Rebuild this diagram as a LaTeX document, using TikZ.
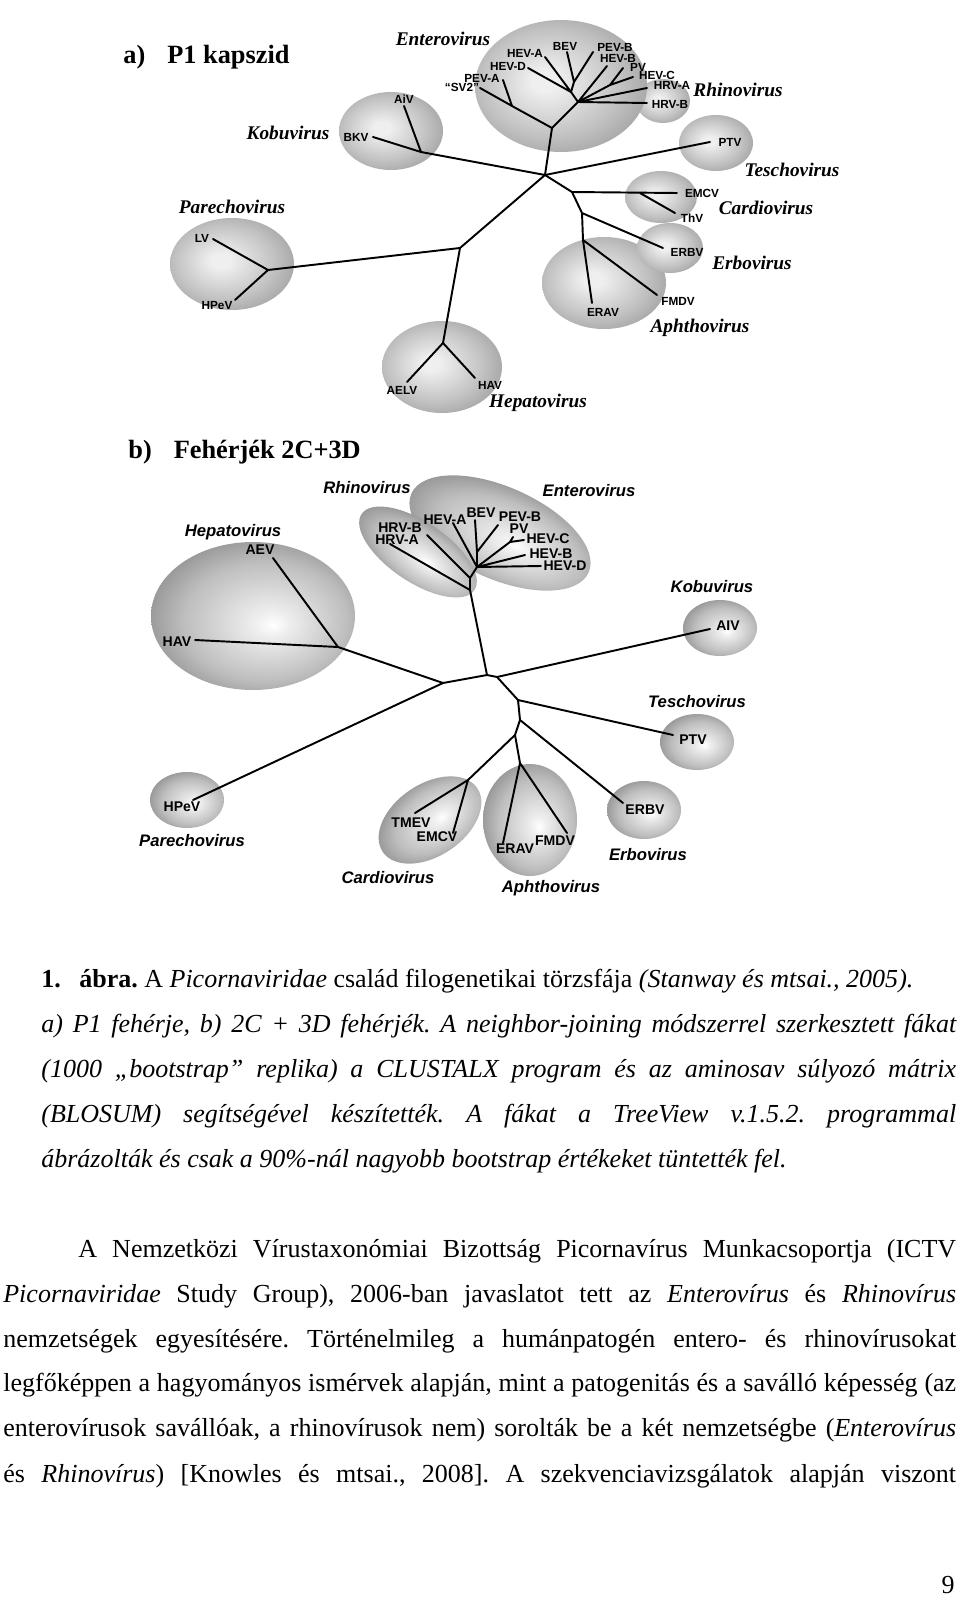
\documentclass[tikz,border=0pt]{standalone}
\usepackage{fontspec}
\setmainfont{Liberation Serif}
\setsansfont{Liberation Sans}
\usetikzlibrary{positioning}
\usepackage{xcolor}
\definecolor{cladein}{HTML}{EFEFEF}
\definecolor{clademid}{HTML}{C2C2C2}
\definecolor{cladeedge}{HTML}{9E9E9E}
\definecolor{cladeout}{HTML}{8C8C8C}
\definecolor{cladebmid}{HTML}{BEBEBE}
\definecolor{cladebedge}{HTML}{8A8A8A}
\definecolor{cladebout}{HTML}{727272}
\pgfdeclareradialshading{cladeshade}{\pgfpoint{-5bp}{2bp}}{%
  color(0bp)=(cladein); color(4bp)=(cladein); color(20bp)=(clademid); color(31bp)=(cladeedge); color(36bp)=(cladeout); color(50bp)=(cladeout)}
\pgfdeclareradialshading{cladeshadeb}{\pgfpoint{5bp}{-3bp}}{%
  color(0bp)=(white); color(4bp)=(cladein); color(20bp)=(cladebmid); color(31bp)=(cladebedge); color(36bp)=(cladebout); color(50bp)=(cladebout)}

\tikzset{
  branch/.style={line width=1.1pt, line cap=round, line join=round},
  clade/.style={shading=cladeshade},
  cladeb/.style={shading=cladeshadeb},
  leafa/.style={font=\sffamily\bfseries\fontsize{6.7}{7}\selectfont, inner sep=0pt},
  leafb/.style={font=\sffamily\bfseries\fontsize{8}{9}\selectfont, inner sep=0pt},
  genusa/.style={font=\bfseries\itshape\fontsize{11}{12}\selectfont, inner sep=0pt},
  genusb/.style={font=\sffamily\bfseries\itshape\fontsize{9.5}{11}\selectfont, inner sep=0pt},
  treetitle/.style={font=\bfseries\fontsize{15}{17}\selectfont, inner sep=0pt, anchor=west},
  txt/.style={font=\frenchspacing\fontsize{14.8}{17}\selectfont, inner sep=0pt, anchor=base west}
}

\begin{document}
\begin{tikzpicture}[x=0.02cm, y=-0.02cm]
  \useasboundingbox (0,0) rectangle (960,1599);
  \fill[white] (0,0) rectangle (960,1599);

  % ---------------- a) P1 kapszid ----------------
  \node[treetitle] (tita) at (123,57) {a)\hspace{0.44cm}P1 kapszid};

  % clades
  \shade[clade] (663,101) ellipse [x radius=27, y radius=22];
  \shade[clade] (561,86) ellipse [x radius=86, y radius=66];
  \shade[clade] (391,131) ellipse [x radius=52, y radius=39];
  \shade[clade] (232,264) ellipse [x radius=62, y radius=46];
  \shade[clade] (442,367) ellipse [x radius=60, y radius=46];
  \shade[clade] (716,143) ellipse [x radius=37, y radius=28];
  \shade[clade] (604,283) ellipse [x radius=62, y radius=46];
  \shade[clade] (670,248) ellipse [x radius=33, y radius=25];
  \shade[clade] (661,197) ellipse [x radius=36, y radius=26];

  % branch points
  \coordinate (ra) at (545,175);
  \coordinate (ka) at (421,152);
  \coordinate (pha) at (460,248);
  \coordinate (pca) at (268,270);
  \coordinate (hpa) at (443,343);
  \coordinate (e1) at (552,128);
  \coordinate (ep) at (512,106);
  \coordinate (e2) at (578,102);
  \coordinate (e3) at (571,92);
  \coordinate (e4) at (574,82);
  \coordinate (e5) at (610,85);
  \coordinate (c1) at (572,192);
  \coordinate (c2) at (640,193);
  \coordinate (a1) at (582,213);
  \coordinate (a2) at (583,240);

  % leaf ends
  \coordinate (aiva) at (404,106);
  \coordinate (bkva) at (373,137);
  \coordinate (lva) at (213,239);
  \coordinate (hpeva) at (235,300);
  \coordinate (aelva) at (407,382);
  \coordinate (hava) at (475,378);
  \coordinate (sv2a) at (480,88);
  \coordinate (pevaa) at (503,80);
  \coordinate (hevaa) at (545,57);
  \coordinate (hevda) at (528,68);
  \coordinate (beva) at (567,52);
  \coordinate (pevba) at (593,52);
  \coordinate (hevba) at (607,66);
  \coordinate (pva) at (623,68);
  \coordinate (hevca) at (633,77);
  \coordinate (hrvaa) at (647,88);
  \coordinate (hrvba) at (647,103);
  \coordinate (ptva) at (710,142);
  \coordinate (emcva) at (677,193);
  \coordinate (thva) at (675,213);
  \coordinate (erbva) at (663,248);
  \coordinate (erava) at (592,303);
  \coordinate (fmdva) at (657,295);

  % tree
  \draw[branch] (ra) -- (ka) -- (aiva) (ka) -- (bkva);
  \draw[branch] (ra) -- (pha) -- (pca) -- (lva) (pca) -- (hpeva);
  \draw[branch] (pha) -- (hpa) -- (aelva) (hpa) -- (hava);
  \draw[branch] (ra) -- (e1) -- (ep) -- (sv2a) (ep) -- (pevaa);
  \draw[branch] (e1) -- (e2) -- (e3) -- (hevaa) (e3) -- (hevda);
  \draw[branch] (e3) -- (e4) -- (beva) (e4) -- (pevba);
  \draw[branch] (e2) -- (hevba) (e2) -- (e5) -- (pva) (e5) -- (hevca);
  \draw[branch] (e2) -- (hrvaa) (e2) -- (hrvba);
  \draw[branch] (ra) -- (ptva);
  \draw[branch] (ra) -- (c1) -- (emcva) (c2) -- (thva);
  \draw[branch] (c1) -- (a1) -- (erbva) (a1) -- (a2) -- (erava) (a2) -- (fmdva);

  % leaf labels
  \node[leafa] (laiva) at (404,99) {AiV};
  \node[leafa] (lbkva) at (356,137) {BKV};
  \node[leafa] (llva) at (202,238) {LV};
  \node[leafa] (lhpeva) at (217,306) {HPeV};
  \node[leafa] (laelva) at (402,390) {AELV};
  \node[leafa] (lhava) at (490,385) {HAV};
  \node[leafa] (lsv2a) at (462,87) {“SV2”};
  \node[leafa] (lpevaa) at (482,78) {PEV-A};
  \node[leafa] (lhevaa) at (525,53) {HEV-A};
  \node[leafa] (lhevda) at (508,66) {HEV-D};
  \node[leafa] (lbeva) at (565,46) {BEV};
  \node[leafa] (lpevba) at (615,47) {PEV-B};
  \node[leafa] (lhevba) at (618,58) {HEV-B};
  \node[leafa] (lpva) at (638,67) {PV};
  \node[leafa] (lhevca) at (657,75) {HEV-C};
  \node[leafa] (lhrvaa) at (672,85) {HRV-A};
  \node[leafa] (lhrvba) at (670,104) {HRV-B};
  \node[leafa] (lptva) at (730,142) {PTV};
  \node[leafa] (lemcva) at (702,193) {EMCV};
  \node[leafa] (lthva) at (692,218) {ThV};
  \node[leafa] (lerbva) at (687,252) {ERBV};
  \node[leafa] (lerava) at (603,312) {ERAV};
  \node[leafa] (lfmdva) at (678,301) {FMDV};

  % genus labels
  \node[genusa] (gentera) at (443,39) {Enterovirus};
  \node[genusa] (grhina) at (738,90) {Rhinovirus};
  \node[genusa] (gkoba) at (288,133) {Kobuvirus};
  \node[genusa] (gparea) at (232,207) {Parechovirus};
  \node[genusa] (gtesa) at (792,170) {Teschovirus};
  \node[genusa] (gcara) at (766,208) {Cardiovirus};
  \node[genusa] (gerba) at (752,263) {Erbovirus};
  \node[genusa] (gapha) at (700,328) {Aphthovirus};
  \node[genusa] (ghepa) at (538,403) {Hepatovirus};

  % ---------------- b) Fehérjék 2C+3D ----------------
  \node[treetitle] (titb) at (128,452) {b)\hspace{0.44cm}Fehérjék 2C+3D};

  % clades
  \shade[cladeb] (253,616) ellipse [x radius=102, y radius=74];
  \shade[cladeb] (187,800) ellipse [x radius=37, y radius=28];
  \begin{scope}[transform canvas={shift={(500,533)}, rotate=-24}]
    \shade[cladeb] (0,0) ellipse [x radius=97, y radius=46];
  \end{scope}
  \begin{scope}[transform canvas={shift={(418,552)}, rotate=-34}]
    \shade[cladeb] (0,0) ellipse [x radius=68, y radius=30];
  \end{scope}
  \shade[cladeb] (720,628) ellipse [x radius=37, y radius=28];
  \shade[cladeb] (697,742) ellipse [x radius=37, y radius=28];
  \shade[cladeb] (644,810) ellipse [x radius=37, y radius=29];
  \shade[cladeb] (530,820) ellipse [x radius=47, y radius=56];
  \begin{scope}[transform canvas={shift={(430,820)}, rotate=34}]
    \shade[cladeb] (0,0) ellipse [x radius=57, y radius=36];
  \end{scope}

  % branch points
  \coordinate (hb) at (338,647);
  \coordinate (pb) at (443,683);
  \coordinate (rb1) at (487,675);
  \coordinate (rb2) at (497,677);
  \coordinate (eb0) at (470,590);
  \coordinate (rh) at (470,578);
  \coordinate (en) at (477,567);
  \coordinate (bp) at (477,552);
  \coordinate (pvn) at (510,542);
  \coordinate (tb1) at (518,700);
  \coordinate (tb2) at (520,720);
  \coordinate (tb3) at (515,735);
  \coordinate (ab) at (520,763);
  \coordinate (cb) at (468,780);

  % leaf ends
  \coordinate (aevb) at (273,558);
  \coordinate (havb) at (195,640);
  \coordinate (hpevb) at (193,800);
  \coordinate (aivb) at (710,629);
  \coordinate (ptvb) at (673,735);
  \coordinate (erbvb) at (623,803);
  \coordinate (eravb) at (503,843);
  \coordinate (fmdvb) at (567,833);
  \coordinate (tmevb) at (415,813);
  \coordinate (emcvb) at (453,833);
  \coordinate (hrvab) at (390,544);
  \coordinate (hrvbb) at (427,535);
  \coordinate (hevab) at (453,523);
  \coordinate (bevb) at (475,520);
  \coordinate (pevbb) at (498,525);
  \coordinate (pvb) at (513,537);
  \coordinate (hevcb) at (524,540);
  \coordinate (hevbb) at (525,555);
  \coordinate (hevdb) at (541,566);

  % tree
  \draw[branch] (pb) -- (hb) -- (aevb) (hb) -- (havb);
  \draw[branch] (pb) -- (hpevb) (pb) -- (rb1) -- (rb2) -- (aivb);
  \draw[branch] (rb1) -- (eb0) -- (hrvab) (eb0) -- (rh) -- (hrvbb) (rh) -- (en);
  \draw[branch] (en) -- (hevab) (en) -- (bp) -- (bevb) (bp) -- (pevbb);
  \draw[branch] (en) -- (pvn) -- (pvb) (pvn) -- (hevcb);
  \draw[branch] (en) -- (hevbb) (en) -- (hevdb);
  \draw[branch] (rb2) -- (tb1) -- (ptvb) (tb1) -- (tb2) -- (erbvb);
  \draw[branch] (tb2) -- (tb3) -- (ab) -- (eravb) (ab) -- (fmdvb);
  \draw[branch] (tb3) -- (cb) -- (tmevb) (cb) -- (emcvb);

  % leaf labels
  \node[leafb] (laevb) at (260,550) {AEV};
  \node[leafb] (lhavb) at (177,642) {HAV};
  \node[leafb] (lhpevb) at (182,807) {HPeV};
  \node[leafb] (laivb) at (728,626) {AIV};
  \node[leafb] (lptvb) at (693,740) {PTV};
  \node[leafb] (lerbvb) at (645,810) {ERBV};
  \node[leafb] (leravb) at (515,849) {ERAV};
  \node[leafb] (lfmdvb) at (555,841) {FMDV};
  \node[leafb] (ltmevb) at (411,823) {TMEV};
  \node[leafb] (lemcvb) at (437,837) {EMCV};
  \node[leafb] (lhrvbb) at (400,528) {HRV-B};
  \node[leafb] (lhrvab) at (397,540) {HRV-A};
  \node[leafb] (lhevab) at (445,520) {HEV-A};
  \node[leafb] (lbevb) at (481,513) {BEV};
  \node[leafb] (lpevbb) at (520,517) {PEV-B};
  \node[leafb] (lpvb) at (519,529) {PV};
  \node[leafb] (lhevcb) at (548,539) {HEV-C};
  \node[leafb] (lhevbb) at (551,554) {HEV-B};
  \node[leafb] (lhevdb) at (565,566) {HEV-D};

  % genus labels
  \node[genusb] (ghepb) at (233,532) {Hepatovirus};
  \node[genusb] (grhinb) at (367,488) {Rhinovirus};
  \node[genusb] (genterb) at (589,491) {Enterovirus};
  \node[genusb] (gkobb) at (712,587) {Kobuvirus};
  \node[genusb] (gtesb) at (697,702) {Teschovirus};
  \node[genusb] (gerbb) at (648,855) {Erbovirus};
  \node[genusb] (gaphb) at (551,888) {Aphthovirus};
  \node[genusb] (gcarb) at (388,878) {Cardiovirus};
  \node[genusb] (gpareb) at (192,841) {Parechovirus};

  % ---------------- caption ----------------
  \node[txt] (cap1) at (41,987) {\makebox[0.76cm][l]{\bfseries 1.}\textbf{ábra.} A \textit{Picornaviridae} család filogenetikai törzsfája \textit{(Stanway és mtsai., 2005).}};
  \node[txt] (cap2) at (41,1032) {\makebox[18.3cm][s]{\itshape a) P1 fehérje, b) 2C + 3D fehérjék. A neighbor-joining módszerrel szerkesztett fákat}};
  \node[txt] (cap3) at (41,1077) {\makebox[18.3cm][s]{\itshape (1000 „bootstrap” replika) a CLUSTALX program és az aminosav súlyozó mátrix}};
  \node[txt] (cap4) at (41,1122) {\makebox[18.3cm][s]{\itshape (BLOSUM) segítségével készítették. A fákat a TreeView v.1.5.2. programmal}};
  \node[txt] (cap5) at (41,1167) {\itshape ábrázolták és csak a 90\%-nál nagyobb bootstrap értékeket tüntették fel.};

  % ---------------- body text ----------------
  \node[txt] (par1) at (78,1257) {\makebox[17.56cm][s]{A Nemzetközi Vírustaxonómiai Bizottság Picornavírus Munkacsoportja (ICTV}};
  \node[txt] (par2) at (3,1302) {\makebox[19.06cm][s]{\textit{Picornaviridae} Study Group), 2006-ban javaslatot tett az \textit{Enterovírus} és \textit{Rhinovírus}}};
  \node[txt] (par3) at (3,1347) {\makebox[19.06cm][s]{nemzetségek egyesítésére. Történelmileg a humánpatogén entero- és rhinovírusokat}};
  \node[txt] (par4) at (3,1391) {\makebox[19.06cm][s]{legfőképpen a hagyományos ismérvek alapján, mint a patogenitás és a saválló képesség (az}};
  \node[txt] (par5) at (3,1436) {\makebox[19.06cm][s]{enterovírusok savállóak, a rhinovírusok nem) sorolták be a két nemzetségbe (\textit{Enterovírus}}};
  \node[txt] (par6) at (3,1482) {\makebox[19.06cm][s]{és \textit{Rhinovírus}) [Knowles és mtsai., 2008]. A szekvenciavizsgálatok alapján viszont}};

  \node[txt, anchor=base east] (pnum) at (955,1593) {9};
\end{tikzpicture}
\end{document}
